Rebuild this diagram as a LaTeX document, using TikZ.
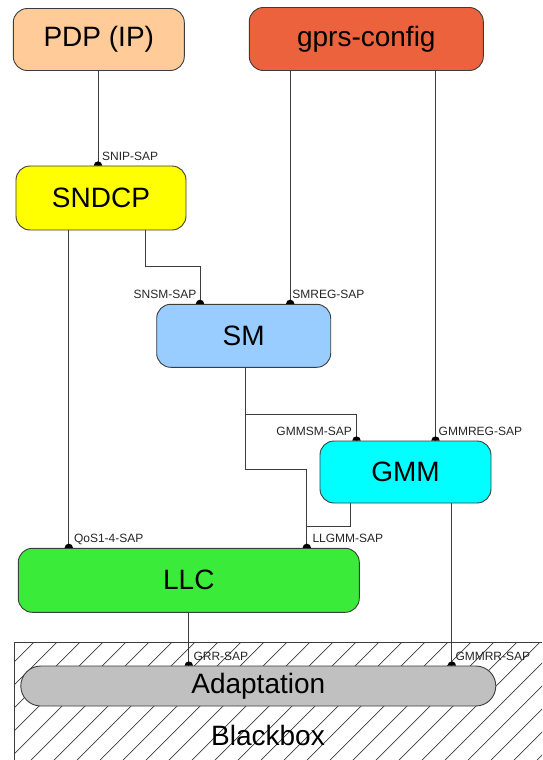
\documentclass[tikz,border=0pt]{standalone}
\usepackage{fontspec}
\setmainfont{Liberation Sans}
\usetikzlibrary{calc}
\definecolor{pdpcol}{RGB}{255,204,153}
\definecolor{cfgcol}{RGB}{236,98,60}
\definecolor{sndcpcol}{RGB}{255,255,0}
\definecolor{smcol}{RGB}{153,204,255}
\definecolor{gmmcol}{RGB}{0,255,255}
\definecolor{llccol}{RGB}{58,235,58}
\definecolor{adaptcol}{RGB}{192,192,192}
\definecolor{linecol}{RGB}{60,60,60}

\begin{document}
\begin{tikzpicture}[x=1pt,y=-1pt,
  entity/.style={draw=linecol, line width=0.9pt, rounded corners=14pt, inner sep=0pt,
    font=\fontsize{28}{30}\selectfont},
  wire/.style={draw=linecol, line width=0.9pt},
  saplabel/.style={font=\fontsize{12}{13}\selectfont, text=black!85, inner sep=0pt, yshift=5pt},
  hatch/.style={draw=linecol, line width=0.7pt}]
\useasboundingbox (0,0) rectangle (542,760);

% blackbox area
\begin{scope}
\clip (14,642) rectangle (542,760);
\foreach \i in {-140,-117,...,560}
  \draw[hatch] (\i,770) -- ++(140,-140);
\end{scope}
\draw[hatch] (542,642) -- (14,642) -- (14,760);
\node (blackbox) at (268,735) {\fontsize{28}{30}\selectfont Blackbox};

% entities
\node[entity, fill=pdpcol, minimum width=171pt, minimum height=62pt] (pdp) at (98.8,39.5) {PDP (IP)};
\node[entity, fill=cfgcol, minimum width=234pt, minimum height=63pt] (cfg) at (366.3,39) {gprs-config};
\node[entity, fill=sndcpcol, minimum width=170pt, minimum height=64pt] (sndcp) at (101,198) {SNDCP};
\node[entity, fill=smcol, minimum width=174pt, minimum height=63pt] (sm) at (243.7,335.8) {SM};
\node[entity, fill=gmmcol, minimum width=171pt, minimum height=62pt] (gmm) at (405.5,472) {GMM};
\node[entity, fill=llccol, minimum width=341pt, minimum height=64pt] (llc) at (188.8,580.3) {LLC};
\node[entity, fill=adaptcol, rounded corners=20pt, minimum width=475pt, minimum height=40pt] (adapt) at (258.3,686) {Adaptation};

% service access points
\coordinate (snip) at ([xshift=-3pt]sndcp.north);
\coordinate (snsm) at ([xshift=-43.7pt]sm.north);
\coordinate (smreg) at ([xshift=46.5pt]sm.north);
\coordinate (gmmsm) at ([xshift=-49pt]gmm.north);
\coordinate (gmmreg) at ([xshift=30pt]gmm.north);
\coordinate (qos) at ([xshift=-120pt]llc.north);
\coordinate (llgmm) at ([xshift=118pt]llc.north);
\coordinate (grr) at ([xshift=-69.5pt]adapt.north);
\coordinate (gmmrr) at ([xshift=193.5pt]adapt.north);

% connectors
\draw[wire] (snip |- pdp.south) -- (snip);
\draw[wire] (smreg |- cfg.south) -- (smreg);
\draw[wire] (gmmreg |- cfg.south) -- (gmmreg);
\draw[wire] (qos |- sndcp.south) -- (qos);
\draw[wire] ([xshift=44pt]sndcp.south) -- ++(0,36) -| (snsm);
\draw[wire] ([xshift=1.3pt]sm.south) -- ++(0,47) -| (gmmsm);
\draw[wire] ([xshift=1.3pt]sm.south) -- ++(0,102) -| (llgmm);
\draw[wire] ([xshift=-55.5pt]gmm.south) -- ++(0,23) -| (llgmm);
\draw[wire] (grr |- llc.south) -- (grr);
\draw[wire] (gmmrr |- gmm.south) -- (gmmrr);

\foreach \p in {snip,snsm,smreg,gmmsm,gmmreg,qos,llgmm,grr,gmmrr}
  \fill (\p) ++(-4.2,0) arc[start angle=180, end angle=360, radius=4.2] -- cycle;

\node[saplabel, anchor=base west, xshift=4pt] (sniplabel) at (snip) {SNIP-SAP};
\node[saplabel, anchor=base east, xshift=-3.5pt] (snsmlabel) at (snsm) {SNSM-SAP};
\node[saplabel, anchor=base west, xshift=2pt] (smreglabel) at (smreg) {SMREG-SAP};
\node[saplabel, anchor=base east, xshift=-4.5pt] (gmmsmlabel) at (gmmsm) {GMMSM-SAP};
\node[saplabel, anchor=base west, xshift=3pt] (gmmreglabel) at (gmmreg) {GMMREG-SAP};
\node[saplabel, anchor=base west, xshift=5pt] (qoslabel) at (qos) {QoS1-4-SAP};
\node[saplabel, anchor=base west, xshift=5.5pt] (llgmmlabel) at (llgmm) {LLGMM-SAP};
\node[saplabel, anchor=base west, xshift=4.5pt] (grrlabel) at (grr) {GRR-SAP};
\node[saplabel, anchor=base west, xshift=3.5pt] (gmmrrlabel) at (gmmrr) {GMMRR-SAP};
\end{tikzpicture}
\end{document}
